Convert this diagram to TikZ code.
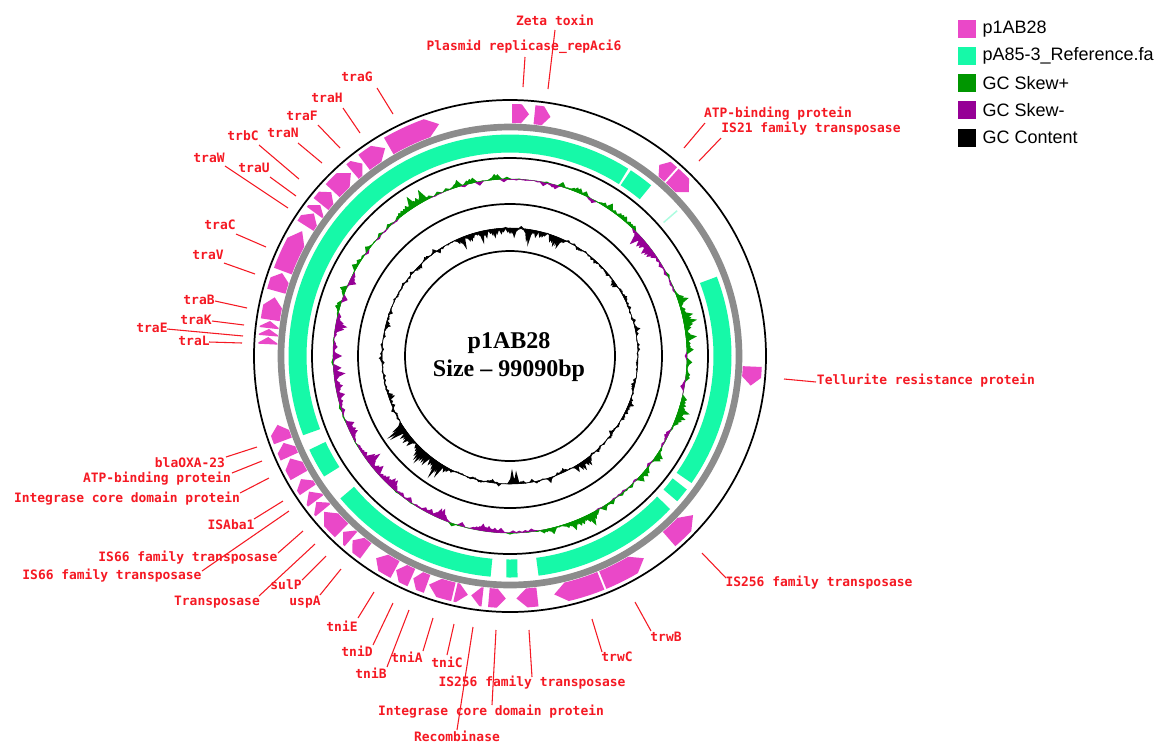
\documentclass[tikz,border=0pt]{standalone}
\usepackage{fontspec}
\setmainfont{Liberation Serif}
\setsansfont{Liberation Sans}
\setmonofont{DejaVu Sans Mono}
\usetikzlibrary{positioning}
\definecolor{genepink}{RGB}{234,72,200}
\definecolor{refgreen}{RGB}{22,249,168}
\definecolor{skewpos}{RGB}{0,150,0}
\definecolor{skewneg}{RGB}{150,0,150}
\definecolor{labred}{RGB}{245,25,35}
\definecolor{ringgrey}{RGB}{140,140,140}
\tikzset{
  lbl/.style={font=\ttfamily\bfseries\fontsize{9.7}{11}\selectfont, text=labred, inner sep=0pt},
  lead/.style={draw=labred, line width=0.8pt},
  ring/.style={draw=black, line width=1.3pt},
  gene/.style={fill=genepink},
  refseg/.style={draw=refgreen, line width=13.5pt},
  keybox/.style={fill=#1, minimum size=13.5pt, inner sep=0pt},
  keytxt/.style={font=\sffamily\fontsize{13.5}{16}\selectfont, inner sep=0pt}
}

\begin{document}
\begin{tikzpicture}[x=0.75pt, y=-0.75pt]
\useasboundingbox (0,0) rectangle (1161,744);
\fill[white] (0,0) rectangle (1161,744);

\begin{scope}[shift={(510,356)}]
% reference hits
\foreach \s/\e in {249/392.3, 33/39.6, 69/125, 127/131, 133.7/172.6, 178/181, 185/230, 237/245}{
  \pgfmathsetmacro\ta{\s-90}
  \pgfmathsetmacro\tb{\e-90}
  \draw[refseg] plot[domain=\ta:\tb, samples=60] (\x:212.5);
}
\draw[refseg, line width=13.5pt, draw opacity=0.35] plot[domain=-41.2:-40.8, samples=2] (\x:212.5);
\draw[ringgrey, line width=5pt] (0,0) circle[radius=229];

% genes: start/end/tip (negative tip = counter-clockwise)
\foreach \s/\e/\p in {0.5/4.5/1.8, 5.8/9.6/1.8, 38/41.5/-1.6, 42/47.5/2.2, 92.5/97/2.0,
  131/139/-3, 146.5/157.5/-3, 158/169.5/3, 173.5/178.5/2.5, 181/185/-2, 186.5/189.2/2.2,
  190/193/-2.4, 193.5/199.5/2.5, 200/203.5/1.6, 204/208/1.8, 208.3/213.5/2,
  216.5/220.5/1.8, 221/223.5/2, 224/230/2.5, 230.5/233/2, 233.3/236/2.2, 236.5/239.5/1.8,
  240.5/245/2, 245.5/249/1.8, 249.5/253.5/2, 272.8/274.5/1.4, 274.8/276.4/1.3,
  276.6/278.3/1.4, 278.6/284/2.2, 285.5/290/1.8, 290.5/301/3, 302.5/306/2, 306.3/308.5/1.7,
  308.8/312.5/1.8, 313/319/2.5, 319.5/322.5/1.8, 323/329/2.5, 330/343/3}{
  \pgfmathsetmacro\F{ifthenelse(\p>0,\s,\e)-90}
  \pgfmathsetmacro\T{ifthenelse(\p>0,\e,\s)-90}
  \pgfmathsetmacro\B{\T-(\p)}
  \fill[gene] (\F:252) -- plot[domain=\F:\B, samples=6] (\x:252) -- (\T:242.5)
    -- (\B:233) -- plot[domain=\B:\F, samples=6] (\x:233) -- cycle;
}

% GC skew (smoothed random walk)
\pgfmathsetseed{4242}
\gdef\sprev{0}
\draw[skewpos, line width=0.4pt] (0,0) circle[radius=177];
\foreach \a in {0,1,...,359}{
  \pgfmathsetmacro\bs{1.0*(\a<40)+1.0*(\a>330)-1.8*(\a>44)*(\a<58)+1.0*(\a>60)*(\a<130)+0.6*(\a>150)*(\a<178)-0.8*(\a>182)*(\a<196)-2.4*(\a>205)*(\a<248)-0.7*(\a>255)*(\a<300)+1.2*(\a>300)*(\a<330)}
  \pgfmathsetmacro\sv{0.72*\sprev+\bs+5*(2*rnd-1)}
  \xdef\sprev{\sv}
  \pgfmathsetmacro\h{min(19,abs(\sv)*(0.45+0.9*rnd))}
  \pgfmathtruncatemacro\sg{ifthenelse(\sv>0,1,-1)}
  \ifnum\sg>0
    \fill[skewpos] ({\a-91.5}:177) -- ({\a-90}:{177+\h}) -- ({\a-88.5}:177) -- cycle;
  \else
    \fill[skewneg] ({\a-91.5}:177) -- ({\a-90}:{177-\h}) -- ({\a-88.5}:177) -- cycle;
  \fi
}

% GC content (smoothed random walk)
\gdef\gprev{0}
\draw[black, line width=0.4pt] (0,0) circle[radius=128];
\foreach \a in {0,1,...,359}{
  \pgfmathsetmacro\bg{-1.6*((\a<25)+(\a>335))+2.6*(\a>208)*(\a<238)+1.6*(\a>135)*(\a<150)-2.2*(\a>176)*(\a<184)+0.5*(\a>60)*(\a<130)}
  \pgfmathsetmacro\am{3+3*((\a<25)+(\a>335))+4*(\a>208)*(\a<238)+3*(\a>135)*(\a<150)+5*(\a>176)*(\a<184)}
  \pgfmathsetmacro\gv{0.6*\gprev+\bg+\am*(2*rnd-1)}
  \xdef\gprev{\gv}
  \pgfmathsetmacro\h{min(20,\gv*(0.4+1.0*rnd))}
  \fill[black] ({\a-91.3}:128) -- ({\a-90}:{128+max(-20,\h)}) -- ({\a-88.7}:128) -- cycle;
}

% rings
\draw[ring] (0,0) circle[radius=105];
\draw[ring] (0,0) circle[radius=152];
\draw[ring] (0,0) circle[radius=198];
\draw[ring] (0,0) circle[radius=256];
\end{scope}

\node[align=center, font=\bfseries\fontsize{18}{21}\selectfont] (title) at (509,357) {p1AB28\\Size -- 99090bp};

% labels and leader lines
\foreach \n/\t/\lx/\ly/\ax/\ay/\bx/\by in {
  zeta/Zeta toxin/555/20/548/89/555/30,
  repA/Plasmid replicase\_repAci6/524/47/523/87/525/57,
  traG/traG/357/77/393/114/377/88,
  traH/traH/327/98/360/133/343/108,
  traF/traF/302/116/340/148/318/125,
  traN/traN/283/133/322/163/298/143,
  trbC/trbC/243/136/299/179/259/145,
  traU/traU/254/168/296/196/270/177,
  traW/traW/209/158/288/208/225/166,
  traC/traC/220/225/266/247/236/234,
  traV/traV/208/255/255/274/224/263,
  traB/traB/199/300/247/308/215/301,
  traK/traK/196/320/244/325/212/321,
  traE/traE/152/328/243/336/167/329,
  traL/traL/194/341/242/343/209/342,
  atpa/ATP-binding protein/778/114/684/148/705/123,
  isXXI/IS21 family transposase/811/129/699/161/721/138,
  tell/Tellurite resistance protein/926/381/784/379/816/382,
  isa/IS256 family transposase/819/583/702/553/726/578,
  trwB/trwB/666/637/635/602/651/631,
  trwC/trwC/617/657/592/619/602/652,
  tniE/tniE/342/626/374/592/358/618,
  tniD/tniD/357/651/393/603/373/645,
  tniB/tniB/371/673/409/610/387/667,
  tniA/tniA/407/657/433/618/423/651,
  tniC/tniC/447/662/454/624/447/655,
  isb/IS256 family transposase/532/683/529/630/532/677,
  intb/Integrase core domain protein/491/712/496/630/492/705,
  recomb/Recombinase/457/736/473/627/457/730,
  bla/blaOXA-23/190/463/257/447/226/457,
  atpb/ATP-binding protein/157/479/262/461/232/473,
  inta/Integrase core domain protein/127/499/269/478/240/493,
  isaba/ISAba1/231/525/283/501/254/519,
  isLXVIa/IS66 family transposase/188/558/303/531/278/553,
  isLXVIb/IS66 family transposase/112/576/289/511/202/571,
  transp/Transposase/217/602/315/544/259/596,
  sulP/sulP/286/585/326/556/302/580,
  uspA/uspA/305/602/341/569/320/595}{
  \node[lbl] (\n) at (\lx,\ly) {\t};
  \coordinate (\n-a) at (\ax,\ay);
  \coordinate (\n-b) at (\bx,\by);
  \draw[lead] (\n-a) -- (\n-b);
}

% legend
\node[keybox=genepink] (k1) at (967,29) {};
\node[keybox=refgreen] (k2) at (967,56) {};
\node[keybox=skewpos] (k3) at (967,83) {};
\node[keybox=skewneg] (k4) at (967,110) {};
\node[keybox=black] (k5) at (967,137.5) {};
\node[keytxt, right=4.5pt of k1] (t1) {p1AB28};
\node[keytxt, right=4.5pt of k2] (t2) {pA85-3\_Reference.fa};
\node[keytxt, right=4.5pt of k3] (t3) {GC Skew+};
\node[keytxt, right=4.5pt of k4] (t4) {GC Skew-};
\node[keytxt, right=4.5pt of k5] (t5) {GC Content};
\end{tikzpicture}
\end{document}
